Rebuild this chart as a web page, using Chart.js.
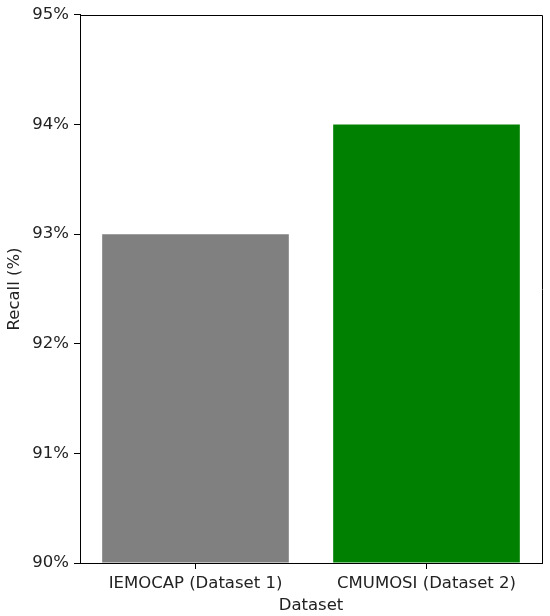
<!DOCTYPE html>
<html>
<head>
<meta charset="utf-8">
<script src="https://cdn.jsdelivr.net/npm/chart.js@4"></script>
<style>
  html, body { margin: 0; padding: 0; background: #fff; }
  #wrap { width: 550px; height: 616px; }
</style>
</head>
<body>
<div id="wrap"><canvas id="recallChart" width="550" height="616"></canvas></div>
<script>
const datasets = ['IEMOCAP (Dataset 1)', 'CMUMOSI (Dataset 2)'];
const recallValues = [93, 94];
const barColors = ['#808080', '#008000'];
const yTicks = [90, 91, 92, 93, 94, 95];

// matplotlib style box: top and right spines
const frameBox = {
  id: 'frameBox',
  afterDraw(chart) {
    const { ctx, chartArea } = chart;
    const l = Math.round(chartArea.left) + 0.5;
    const t = Math.round(chartArea.top) + 0.5;
    const r = Math.round(chartArea.right) + 0.5;
    const b = Math.round(chartArea.bottom) + 0.5;
    ctx.save();
    ctx.strokeStyle = '#000';
    ctx.lineWidth = 1;
    ctx.beginPath();
    ctx.moveTo(l, t);
    ctx.lineTo(r, t);
    ctx.lineTo(r, b);
    ctx.stroke();
    ctx.restore();
  }
};

const tickFont = { family: 'DejaVu Sans', size: 16.5, lineHeight: 1.2 };

new Chart(document.getElementById('recallChart').getContext('2d'), {
  type: 'bar',
  data: {
    labels: datasets,
    datasets: [{
      data: recallValues,
      base: yTicks[0],
      backgroundColor: barColors,
      borderWidth: 0,
      categoryPercentage: 1,
      barPercentage: 0.808
    }]
  },
  options: {
    responsive: false,
    animation: false,
    layout: { padding: { left: 0, right: 8, top: 12, bottom: 0 } },
    plugins: {
      legend: { display: false },
      tooltip: { enabled: false }
    },
    scales: {
      x: {
        grid: { offset: false, drawOnChartArea: false, drawTicks: true, tickLength: 6, color: '#000' },
        border: { color: '#000' },
        ticks: { color: '#222', font: tickFont, padding: 5, maxRotation: 0 },
        title: { display: true, text: 'Dataset', color: '#222', font: tickFont, padding: { top: 1, bottom: 0 } },
        afterFit(scale) { scale.height = 53; }
      },
      y: {
        min: yTicks[0],
        max: yTicks[yTicks.length - 1],
        afterBuildTicks(scale) { scale.ticks = yTicks.map(v => ({ value: v })); },
        grid: { drawOnChartArea: false, drawTicks: true, tickLength: 6, color: '#000' },
        border: { color: '#000' },
        ticks: { color: '#222', font: tickFont, padding: 5, callback: v => v + '%' },
        title: { display: true, text: 'Recall (%)', color: '#222', font: tickFont, padding: { top: 5, bottom: 0 } },
        afterFit(scale) { scale.width = 80; }
      }
    }
  },
  plugins: [frameBox]
});
</script>
</body>
</html>
